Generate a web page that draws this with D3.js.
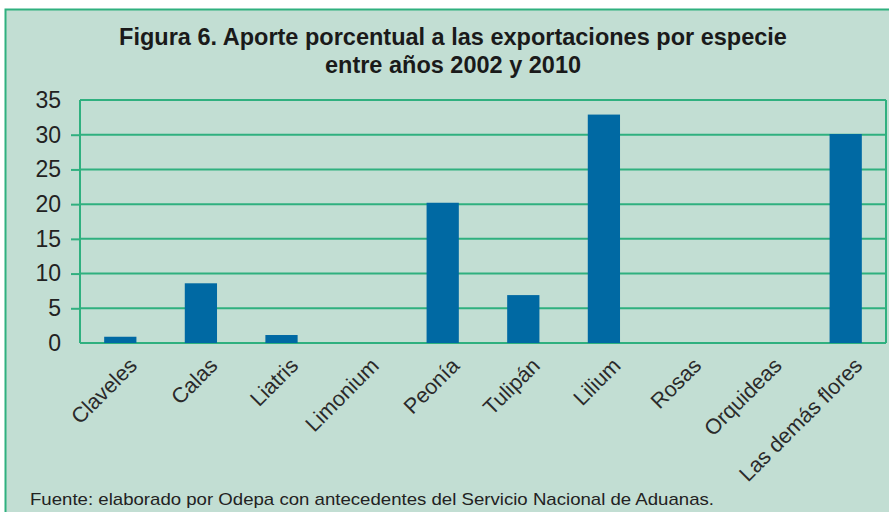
<!DOCTYPE html>
<html>
<head>
<meta charset="utf-8">
<script src="https://cdn.jsdelivr.net/npm/d3@7"></script>
<style>
  html, body { margin: 0; padding: 0; background: #fff; }
  svg { display: block; font-family: "Liberation Sans", Arial, sans-serif; }
</style>
</head>
<body>
<svg id="chart" width="889" height="512"></svg>
<script>
// data (% share of exports 2002-2010)
var species = ['Claveles', 'Calas', 'Liatris', 'Limonium', 'Peonía', 'Tulipán',
               'Lilium', 'Rosas', 'Orquideas', 'Las demás flores'];
var shares = [0.9, 8.6, 1.15, 0, 20.2, 6.9, 32.9, 0, 0, 30.1];
var yTicks = [0, 5, 10, 15, 20, 25, 30, 35];
var titleLines = ['Figura 6. Aporte porcentual a las exportaciones por especie',
                  'entre años 2002 y 2010'];
var source = 'Fuente: elaborado por Odepa con antecedentes del Servicio Nacional de Aduanas.';

var svg = d3.select('#chart');
var W = 889, H = 512;
var m = {left: 80, right: 3, top: 100, bottom: 169};

var green = '#2fb07f', bg = '#c2ded3', barCol = '#0069a3';

// panel
svg.append('rect')
    .attr('x', 5.5).attr('y', 9.5)
    .attr('width', W).attr('height', H)
    .attr('fill', bg)
    .attr('stroke', green).attr('stroke-width', 2);

var title = svg.append('text')
    .attr('text-anchor', 'middle')
    .attr('font-weight', 'bold')
    .attr('font-size', 23.5)
    .attr('fill', '#1a1a1a');
title.selectAll('tspan')
    .data(titleLines)
  .enter().append('tspan')
    .attr('x', 453)
    .attr('y', (d, i) => 45 + i * 28)
    .text(d => d);

var x = d3.scaleBand()
    .domain(species)
    .range([m.left, W - m.right])
    .paddingInner(0.6).paddingOuter(0.3);

var y = d3.scaleLinear()
    .domain([0, 35])
    .range([H - m.bottom, m.top]);

// gridlines + y axis
var yAxis = svg.append('g')
    .attr('transform', 'translate(' + m.left + ',0)')
    .call(d3.axisLeft(y).tickValues(yTicks).tickSize(9).tickPadding(10));
yAxis.select('.domain').remove();
yAxis.selectAll('.tick line')
    .attr('stroke', green).attr('stroke-width', 2)
    .filter(d => d === 0 || d === 35).attr('x2', 0);
yAxis.selectAll('.tick text')
    .attr('font-size', 23)
    .attr('font-family', '"Liberation Sans", Arial, sans-serif')
    .attr('fill', '#222');

svg.append('g').selectAll('line')
    .data(yTicks)
  .enter().append('line')
    .attr('x1', m.left).attr('x2', W - m.right)
    .attr('y1', d => y(d)).attr('y2', d => y(d))
    .attr('stroke', green).attr('stroke-width', 2);

svg.append('line')
    .attr('x1', m.left).attr('x2', m.left)
    .attr('y1', y(35)).attr('y2', y(0))
    .attr('stroke', green).attr('stroke-width', 2);
svg.append('line')
    .attr('x1', W - m.right).attr('x2', W - m.right)
    .attr('y1', y(35)).attr('y2', y(0))
    .attr('stroke', green).attr('stroke-width', 2);

// bars
svg.append('g').selectAll('rect')
    .data(shares)
  .enter().append('rect')
    .attr('x', (d, i) => x(species[i]))
    .attr('width', x.bandwidth())
    .attr('y', d => y(d))
    .attr('height', d => y(0) - y(d))
    .attr('fill', barCol);

// category labels
var xAxis = svg.append('g')
    .attr('transform', 'translate(0,' + y(0) + ')')
    .call(d3.axisBottom(x).tickSize(0).tickPadding(0));
xAxis.select('.domain').remove();
xAxis.selectAll('.tick text')
    .attr('font-size', 21.5)
    .attr('font-family', '"Liberation Sans", Arial, sans-serif')
    .attr('fill', '#2a2a2a')
    .attr('text-anchor', 'end')
    .attr('dy', 0)
    .attr('transform', 'translate(18,24) rotate(-45)');

// source note
var src = svg.append('text')
    .attr('x', 30).attr('y', 505)
    .attr('font-size', 17)
    .attr('fill', '#222')
    .text(source);
var len = src.node().getComputedTextLength();
if (Math.abs(len - 684) > 10) src.attr('textLength', 684).attr('lengthAdjust', 'spacingAndGlyphs');
</script>
</body>
</html>
